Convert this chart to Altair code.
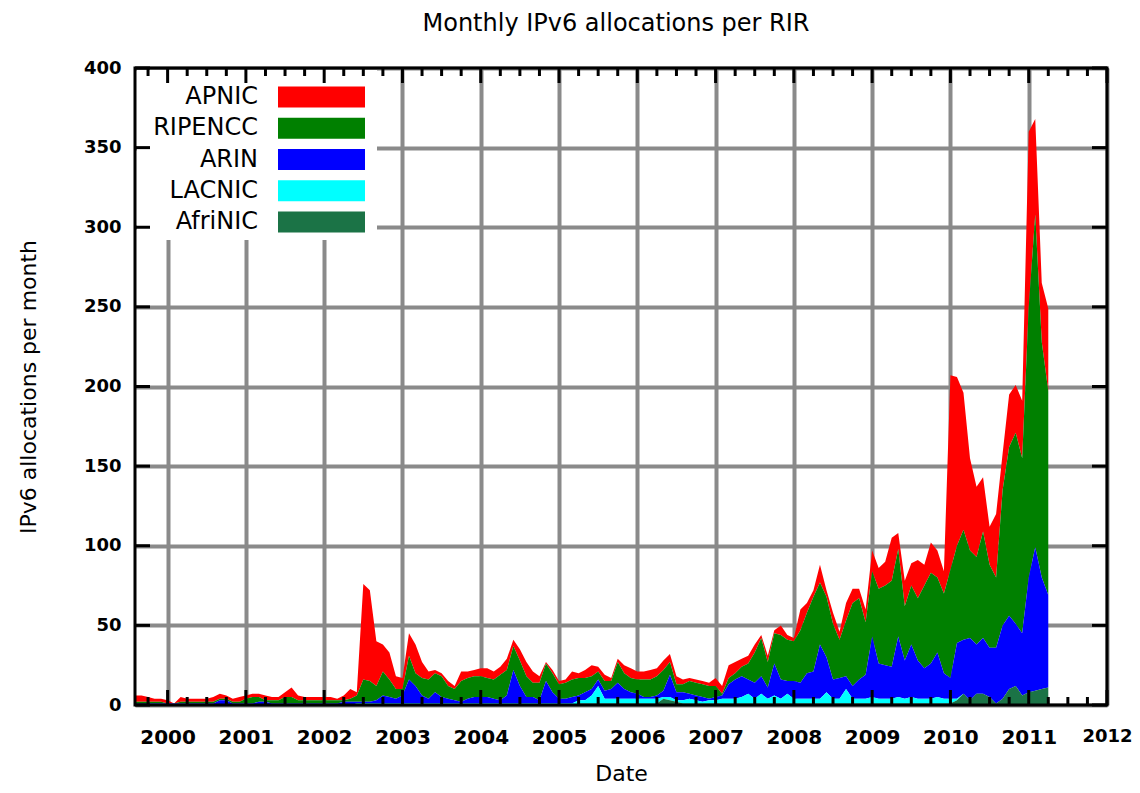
import altair as alt
import pandas as pd

# ---- data: monthly IPv6 allocations per RIR, Aug 1999 .. Apr 2011 ----
start_year, start_month = 1999, 8

apnic = [
    4, 4, 3, 2, 2,                                   # 1999 Aug-Dec
    2, 0, 3, 2, 2, 2, 2, 3, 3, 2, 2, 3,              # 2000
    2, 2, 2, 3, 2, 2, 3, 6, 3, 2, 2, 2,              # 2001
    2, 2, 1, 3, 6, 2, 60, 57, 28, 17, 17, 8,         # 2002
    7, 14, 18, 10, 5, 2, 2, 3, 2, 6, 4, 4,           # 2003
    5, 6, 5, 5, 7, 4, 7, 9, 7, 4, 1, 2,              # 2004
    2, 2, 5, 3, 5, 7, 3, 4, 2, 2, 5, 6,              # 2005
    5, 5, 6, 5, 6, 5, 5, 3, 2, 2, 2, 2,              # 2006
    5, 5, 8, 7, 5, 5, 5, 2, 4, 2, 6, 3,              # 2007
    2, 13, 6, 4, 11, 4, 7, 5, 11, 9, 6, 8,           # 2008
    13, 13, 15, 27, 10, 16, 14, 24, 13, 19, 17, 14,  # 2009
    122, 106, 86, 58, 44, 34, 24, 40, 23, 33, 30, 36,  # 2010
    110, 60, 37, 52,                                 # 2011 Jan-Apr
]
ripencc = [
    1, 1, 1, 1, 1,
    0, 0, 1, 1, 1, 1, 1, 1, 1, 1, 1, 1,
    3, 4, 3, 1, 2, 2, 4, 4, 2, 2, 2, 2,
    2, 2, 2, 1, 2, 4, 14, 13, 9, 15, 11, 6,
    4, 15, 8, 11, 12, 12, 13, 8, 7, 13, 13, 13,
    13, 12, 12, 16, 16, 15, 16, 13, 9, 11, 11, 12,
    9, 10, 11, 11, 9, 8, 5, 6, 5, 13, 10, 9,
    9, 11, 11, 12, 13, 8, 5, 5, 8, 8, 8, 8,
    7, 1, 4, 4, 6, 10, 19, 24, 16, 19, 28, 26,
    25, 33, 38, 47, 39, 38, 35, 24, 35, 52, 51, 33,
    41, 47, 50, 54, 55, 34, 37, 39, 52, 57, 47, 50,
    68, 61, 69, 55, 55, 67, 52, 44, 85, 106, 120, 110,
    170, 209, 148, 128,
]
arin = [
    1, 1, 1, 1, 1,
    1, 1, 1, 1, 1, 1, 1, 1, 3, 3, 1, 1,
    1, 1, 2, 2, 1, 1, 1, 1, 1, 1, 1, 1,
    1, 1, 1, 2, 2, 1, 1, 1, 2, 5, 4, 3,
    5, 15, 11, 5, 3, 7, 4, 3, 2, 1, 3, 4,
    4, 4, 3, 2, 5, 21, 11, 4, 4, 2, 14, 7,
    3, 3, 4, 3, 5, 4, 4, 5, 6, 10, 6, 4,
    3, 1, 1, 2, 4, 14, 5, 5, 3, 3, 3, 1,
    2, 2, 9, 12, 13, 9, 10, 11, 7, 20, 12, 8,
    11, 10, 16, 17, 34, 22, 12, 13, 8, 8, 12, 15,
    38, 22, 21, 20, 38, 24, 33, 24, 19, 22, 28, 16,
    13, 35, 34, 39, 31, 35, 31, 35, 46, 46, 39, 39,
    72, 90, 70, 58,
]
lacnic = [
    0, 0, 0, 0, 0,
    0, 0, 0, 0, 0, 0, 0, 0, 0, 0, 0, 0,
    0, 0, 0, 0, 0, 0, 0, 0, 0, 0, 0, 0,
    0, 0, 0, 0, 0, 1, 1, 1, 1, 1, 1, 1,
    1, 1, 1, 1, 1, 1, 1, 1, 1, 1, 1, 1,
    1, 1, 1, 1, 1, 1, 1, 1, 1, 1, 1, 1,
    1, 1, 1, 2, 2, 5, 11, 3, 3, 3, 3, 3,
    3, 3, 3, 3, 1, 2, 1, 2, 3, 2, 1, 2,
    2, 3, 3, 3, 4, 6, 3, 6, 3, 5, 3, 6,
    3, 3, 3, 3, 3, 7, 3, 3, 9, 3, 3, 3,
    4, 3, 3, 3, 4, 3, 4, 3, 3, 3, 4, 3,
    3, 1, 0, 0, 0, 0, 0, 0, 0, 0, 0, 0,
    0, 0, 0, 0,
]
afrinic = [
    0, 0, 0, 0, 0,
    0, 0, 0, 0, 0, 0, 0, 0, 0, 0, 0, 0,
    0, 0, 0, 0, 0, 0, 0, 0, 0, 0, 0, 0,
    0, 0, 0, 0, 0, 0, 0, 0, 0, 0, 0, 0,
    0, 0, 0, 0, 0, 0, 0, 0, 0, 0, 0, 0,
    0, 0, 0, 0, 0, 0, 0, 0, 0, 0, 0, 0,
    0, 0, 0, 1, 1, 1, 1, 1, 1, 1, 1, 1,
    1, 1, 1, 1, 4, 3, 2, 1, 1, 1, 1, 1,
    1, 1, 1, 1, 1, 1, 1, 1, 1, 1, 1, 1,
    1, 1, 1, 1, 1, 1, 1, 1, 1, 1, 1, 1,
    1, 1, 1, 1, 1, 1, 1, 1, 1, 1, 1, 1,
    1, 3, 7, 3, 7, 7, 5, 1, 4, 10, 12, 6,
    8, 9, 10, 11,
]

rir_names = ["APNIC", "RIPENCC", "ARIN", "LACNIC", "AfriNIC"]
rir_colors = ["#ff0000", "#008000", "#0000ff", "#00ffff", "#1b7346"]
stack_rank = [4, 3, 2, 1, 0]          # AfriNIC at the bottom, APNIC on top
year_labels = list(range(2000, 2013))
value_ticks = list(range(0, 401, 50))
minor_ticks = [y + q / 4 for y in range(1999, 2012) for q in (1, 2, 3)]
minor_ticks = [m for m in minor_ticks if m > 1999.6]
chart_title = "Monthly IPv6 allocations per RIR"

W, H = 972, 637
FONT = "DejaVu Sans"

series = dict(zip(rir_names, [apnic, ripencc, arin, lacnic, afrinic]))
rows = []
for name, rank in zip(rir_names, stack_rank):
    for i, v in enumerate(series[name]):
        rows.append({"t": start_year + (start_month - 1 + i) / 12.0,
                     "rir": name, "value": v, "rank": rank})
df = pd.DataFrame(rows)

x_scale = alt.Scale(domain=[start_year + (start_month - 1) / 12.0, 2012], nice=False, zero=False)
y_scale = alt.Scale(domain=[0, 400], nice=False)
color_scale = alt.Scale(domain=rir_names, range=rir_colors)
GRID = "#8a8a8a"

x_axis = alt.Axis(
    values=year_labels, format="d", grid=True, gridColor=GRID, gridWidth=4, gridOpacity=1,
    ticks=False, tickSize=0, domain=False,
    labelFont=FONT, labelFontWeight="bold", labelColor="black",
    labelFontSize={"condition": {"test": "datum.value == 2012", "value": 18}, "value": 20},
    labelPadding=22, labelFlush=False, labelOverlap=False,
    title="Date", titleFont=FONT, titleFontSize=22, titleFontWeight="normal",
    titleColor="black", titleX=W / 2, titleY=68, titleAlign="center", titleBaseline="middle",
)
y_axis = alt.Axis(
    values=value_ticks, grid=True, gridColor=GRID, gridWidth=4, gridOpacity=1,
    ticks=False, tickSize=0, domain=False,
    labelFont=FONT, labelFontSize=18, labelFontWeight="bold", labelColor="black",
    labelPadding=14,
    title="IPv6 allocations per month", titleFont=FONT, titleFontSize=22,
    titleFontWeight="normal", titleColor="black", titleAngle=270,
    titleX=-107, titleY=H / 2, titleAlign="center", titleBaseline="middle",
)

areas = alt.Chart(df).mark_area(opacity=1, interpolate="linear").encode(
    x=alt.X("t:Q", scale=x_scale, axis=x_axis),
    y=alt.Y("value:Q", stack="zero", scale=y_scale, axis=y_axis),
    color=alt.Color("rir:N", scale=color_scale, legend=None),
    order=alt.Order("rank:Q", sort="ascending"),
)

one = pd.DataFrame({"k": [0]})
legend_bg = alt.Chart(one).mark_rect(color="white").encode(
    x=alt.value(2), x2=alt.value(242), y=alt.value(2), y2=alt.value(172)
)

legend_df = pd.DataFrame({"rir": rir_names})
legend_y = alt.Scale(type="band", domain=rir_names, range=[18.5, 164.5],
                     paddingInner=0.33, paddingOuter=0)
swatches = alt.Chart(legend_df).mark_rect().encode(
    x=alt.value(143), x2=alt.value(230),
    y=alt.Y("rir:N", scale=legend_y, axis=None),
    color=alt.Color("rir:N", scale=color_scale, legend=None),
)
legend_text = alt.Chart(legend_df).mark_text(
    align="right", baseline="middle", font=FONT, fontSize=24, color="black"
).encode(
    x=alt.value(123),
    y=alt.Y("rir:N", scale=legend_y, axis=None),
    text="rir:N",
)


def x_ticks(vals, y0, y1):
    return alt.Chart(pd.DataFrame({"t": vals})).mark_rule(color="black", strokeWidth=3).encode(
        x=alt.X("t:Q", scale=x_scale, axis=x_axis), y=alt.value(y0), y2=alt.value(y1)
    )


def y_ticks(x0, x1):
    return alt.Chart(pd.DataFrame({"v": value_ticks})).mark_rule(color="black", strokeWidth=3).encode(
        y=alt.Y("v:Q", scale=y_scale, axis=None), x=alt.value(x0), x2=alt.value(x1)
    )


ticks = [
    x_ticks(year_labels, 0, 15), x_ticks(year_labels, H, H - 15),
    x_ticks(minor_ticks, 0, 8), x_ticks(minor_ticks, H, H - 8),
    y_ticks(0, 15), y_ticks(W, W - 15),
]

border = alt.Chart(one).mark_rect(filled=False, stroke="black", strokeWidth=3).encode(
    x=alt.value(0), x2=alt.value(W), y=alt.value(0), y2=alt.value(H)
)

title_mark = alt.Chart(one).mark_text(
    font=FONT, fontSize=24, color="black", align="center", baseline="middle"
).encode(x=alt.value(W / 2 - 5), y=alt.value(-44), text=alt.value(chart_title))

chart = alt.layer(areas, legend_bg, swatches, legend_text, *ticks, border, title_mark).resolve_scale(
    y="independent"
).properties(
    width=W, height=H,
    padding={"left": 127, "top": 60, "right": 25, "bottom": 80},
    autosize=alt.AutoSizeParams(type="none"),
).configure_view(stroke=None)

chart.save("out.html", embed_options={"renderer": "svg", "actions": False})
